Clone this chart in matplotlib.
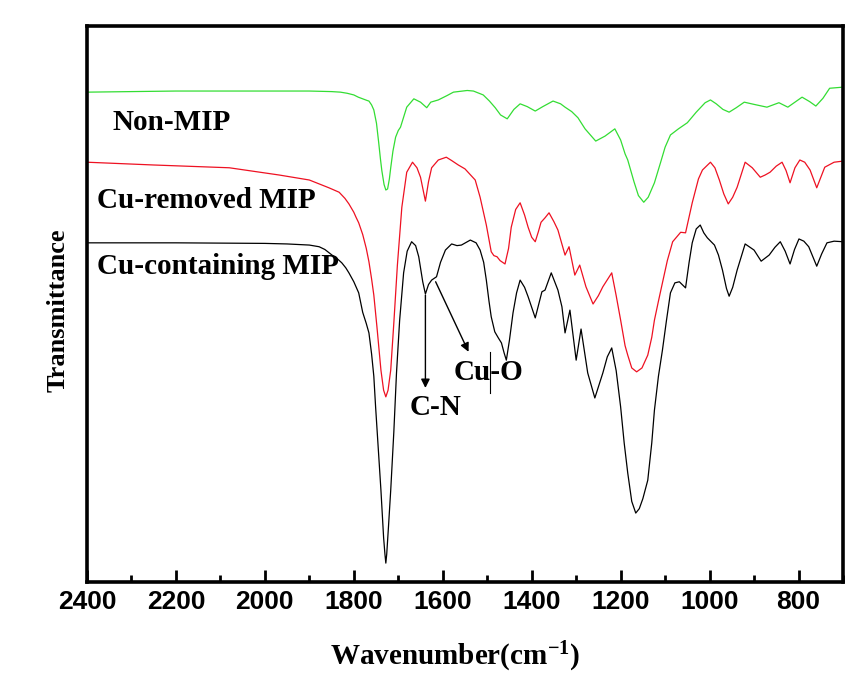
import matplotlib
matplotlib.use('Agg')
import matplotlib.pyplot as plt
from matplotlib.ticker import MultipleLocator

plt.rcParams['mathtext.fontset'] = 'custom'
plt.rcParams['mathtext.rm'] = 'Liberation Serif:bold'
plt.rcParams['mathtext.it'] = 'Liberation Serif:bold'
plt.rcParams['mathtext.bf'] = 'Liberation Serif:bold'

# FTIR spectra, wavenumber (cm-1) vs transmittance (arbitrary units)
wn_green = [2400, 2200, 2000, 1900, 1850, 1830, 1815, 1800, 1790, 1780, 1770, 1766, 1760,
            1755, 1749, 1744, 1740, 1737, 1732, 1728, 1724, 1720, 1717, 1712, 1706, 1700,
            1695, 1681, 1665, 1650, 1636, 1627, 1610, 1590, 1576, 1545, 1531, 1509, 1495,
            1482, 1470, 1455, 1440, 1426, 1410, 1392, 1375, 1352, 1335, 1325, 1310, 1296,
            1280, 1256, 1235, 1213, 1200, 1190, 1184, 1170, 1160, 1148, 1138, 1124, 1110,
            1100, 1088, 1070, 1050, 1030, 1010, 998, 985, 970, 956, 940, 922, 900, 871,
            844, 824, 808, 792, 775, 761, 745, 730, 700]
t_green = [88.1, 88.3, 88.3, 88.3, 88.2, 88.1, 87.9, 87.6, 87.2, 86.9, 86.6, 86.5, 85.8,
           84.9, 82.5, 79.0, 76.0, 74.0, 71.5, 70.5, 70.7, 72.5, 74.5, 77.5, 80.0, 81.2,
           81.8, 85.4, 86.9, 86.3, 85.3, 86.3, 86.7, 87.5, 88.1, 88.4, 88.3, 87.6, 86.5,
           85.3, 84.0, 83.3, 85.0, 86.0, 85.5, 84.7, 85.5, 86.5, 86.0, 85.4, 84.6, 83.5,
           81.5, 79.3, 80.2, 81.5, 79.5, 77.0, 75.9, 72.0, 69.5, 68.3, 69.2, 71.8, 75.5,
           78.2, 80.4, 81.5, 82.6, 84.5, 86.2, 86.7, 86.0, 85.0, 84.5, 85.3, 86.3, 85.9, 85.4,
           86.2, 85.4, 86.3, 87.2, 86.4, 85.6, 87.0, 88.8, 89.0]

wn_red = [2400, 2250, 2080, 1968, 1900, 1856, 1833, 1820, 1811, 1800, 1795, 1789, 1780,
          1772, 1766, 1760, 1755, 1748, 1739, 1733, 1728, 1723, 1717, 1710, 1702, 1692,
          1681, 1668, 1658, 1650, 1639, 1632, 1625, 1610, 1592, 1580, 1565, 1550, 1542,
          1527, 1516, 1502, 1491, 1485, 1478, 1471, 1460, 1452, 1446, 1436, 1426, 1416,
          1408, 1400, 1392, 1385, 1379, 1370, 1361, 1350, 1341, 1325, 1316, 1303, 1292,
          1278, 1262, 1250, 1240, 1220, 1210, 1200, 1190, 1184, 1175, 1164, 1152, 1139,
          1130, 1124, 1115, 1106, 1095, 1083, 1065, 1054, 1039, 1025, 1016, 998, 988, 978,
          968, 958, 948, 938, 920, 904, 886, 875, 864, 850, 837, 828, 819, 808, 797, 786,
          774, 759, 741, 720, 700]
t_red = [75.5, 75.0, 74.5, 73.2, 72.3, 70.9, 70.1, 69.0, 68.0, 66.5, 65.6, 64.6, 62.5,
         60.0, 57.6, 54.5, 51.6, 45.9, 38.1, 34.5, 33.3, 34.5, 38.1, 46.6, 57.0, 67.4,
         73.7, 75.5, 74.5, 72.8, 68.5, 72.0, 74.5, 75.9, 76.4, 75.8, 75.0, 74.3, 73.6,
         72.3, 69.2, 64.2, 59.4, 58.7, 58.5, 57.8, 57.2, 60.0, 63.8, 67.0, 68.2, 66.0,
         63.8, 62.0, 61.2, 63.0, 64.7, 65.5, 66.4, 64.8, 63.3, 58.8, 60.3, 55.2, 57.0,
         53.1, 50.0, 51.5, 53.1, 55.6, 51.5, 47.1, 42.5, 40.8, 38.5, 37.8, 38.5, 40.8,
         44.0, 47.1, 50.5, 53.8, 57.8, 61.2, 62.9, 62.8, 68.2, 72.5, 74.1, 75.5, 74.5, 72.3,
         69.8, 68.0, 69.2, 71.0, 75.5, 74.5, 72.8, 73.2, 73.7, 74.8, 75.5, 74.0, 71.8, 74.5,
         75.9, 75.5, 74.1, 70.9, 74.6, 75.5, 75.7]

wn_black = [2400, 2200, 2000, 1950, 1900, 1878, 1865, 1849, 1838, 1827, 1818, 1811, 1800,
            1789, 1780, 1772, 1766, 1760, 1755, 1751, 1745, 1739, 1733, 1730, 1728, 1726,
            1722, 1717, 1710, 1704, 1697, 1688, 1680, 1670, 1661, 1654, 1645, 1639, 1632,
            1625, 1614, 1605, 1594, 1580, 1568, 1558, 1538, 1525, 1516, 1508, 1502, 1496,
            1491, 1483, 1475, 1468, 1462, 1457, 1450, 1442, 1434, 1426, 1416, 1408, 1392,
            1377, 1370, 1356, 1341, 1332, 1325, 1314, 1300, 1289, 1274, 1258, 1240, 1230,
            1220, 1210, 1200, 1192, 1184, 1175, 1166, 1158, 1150, 1139, 1130, 1124, 1115,
            1106, 1097, 1088, 1078, 1068, 1054, 1046, 1039, 1030, 1021, 1013, 1005, 989,
            980, 971, 962, 956, 948, 938, 920, 900, 884, 866, 853, 841, 830, 819, 809, 799,
            788, 777, 759, 748, 736, 720, 700]
t_black = [61.0, 61.0, 60.9, 60.8, 60.6, 60.3, 59.8, 58.8, 58.2, 57.4, 56.5, 55.6, 54.0,
           52.0, 48.5, 46.5, 44.8, 41.0, 37.0, 31.5, 24.0, 16.5, 8.0, 5.0, 3.4, 5.0,
           10.0, 16.5, 27.0, 37.6, 47.0, 55.6, 59.5, 61.2, 60.5, 58.5, 54.0, 51.8, 53.5,
           54.3, 54.9, 57.5, 59.7, 60.8, 60.5, 60.6, 61.5, 61.0, 59.7, 57.5, 54.3, 50.5,
           47.7, 45.0, 43.9, 43.0, 41.2, 39.9, 43.5, 48.4, 52.0, 54.3, 53.0, 51.3, 47.5,
           52.2, 52.5, 55.6, 52.5, 49.5, 44.8, 48.9, 39.9, 45.5, 37.6, 33.1, 37.6, 40.5,
           42.1, 38.0, 31.5, 25.0, 19.6, 14.5, 12.4, 13.2, 15.0, 18.3, 25.0, 30.9, 37.0,
           41.7, 47.0, 52.0, 53.8, 54.0, 52.9, 57.5, 61.0, 63.5, 64.2, 62.8, 61.9, 60.6,
           58.8, 56.1, 52.8, 51.4, 53.0, 56.1, 60.8, 59.7, 57.7, 58.8, 60.2, 61.2, 59.5,
           57.2, 59.8, 61.7, 61.3, 60.3, 56.8, 59.0, 61.0, 61.3, 61.2]

curve_labels = ['Non-MIP', 'Cu-removed MIP', 'Cu-containing MIP']
tick_values = [2400, 2200, 2000, 1800, 1600, 1400, 1200, 1000, 800]

serif = 'Liberation Serif'
sans = 'Liberation Sans'

fig = plt.figure(figsize=(8.63, 6.82), dpi=100)
ax = fig.add_axes([0.1008, 0.1466, 0.876, 0.8153])

ax.plot(wn_green, t_green, color='#33dd33', lw=0.9)
ax.plot(wn_red, t_red, color='#ee1122', lw=0.9)
ax.plot(wn_black, t_black, color='black', lw=0.9)

ax.set_xlim(2400, 700)
ax.set_ylim(0, 100)

# curve names
ax.text(2342, 82.7, curve_labels[0], family=serif, weight='bold', fontsize=21, va='center')
ax.text(2378, 68.7, curve_labels[1], family=serif, weight='bold', fontsize=21, va='center')
ax.text(2378, 56.7, curve_labels[2], family=serif, weight='bold', fontsize=21, va='center')

# peak assignments
arrow = dict(arrowstyle='-|>', color='black', lw=1.0, mutation_scale=13, shrinkA=0, shrinkB=0)
ax.annotate('', xy=(1639, 34.9), xytext=(1639, 51.6), arrowprops=arrow)
ax.annotate('', xy=(1542, 41.4), xytext=(1616, 54.0), arrowprops=arrow)
ax.text(1616, 31.3, 'C-N', family=serif, weight='bold', fontsize=21, ha='center', va='center')
ax.text(1498, 37.6, 'Cu-O', family=serif, weight='bold', fontsize=21, ha='center', va='center')
ax.plot([1493, 1493], [34.0, 41.4], color='black', lw=0.8)

ax.set_xticks(tick_values)
ax.xaxis.set_minor_locator(MultipleLocator(100))
ax.set_yticks([])
ax.tick_params(axis='x', which='major', direction='in', length=9, width=2, pad=6,
               top=False, labelsize=19)
ax.tick_params(axis='x', which='minor', direction='in', length=5, width=2, top=False)
for lab in ax.get_xticklabels():
    lab.set_family(sans)
    lab.set_weight('bold')
for sp in ax.spines.values():
    sp.set_linewidth(2.6)

ax.set_xlabel('Wavenumber(cm$^{-1}$)', family=serif, weight='bold', fontsize=21, va='center')
ax.xaxis.set_label_coords(0.487, -0.135)
ax.set_ylabel('Transmittance', family=serif, weight='bold', fontsize=19, va='center')
ax.yaxis.set_label_coords(-0.038, 0.489)

fig.savefig('out.png', dpi=100)
